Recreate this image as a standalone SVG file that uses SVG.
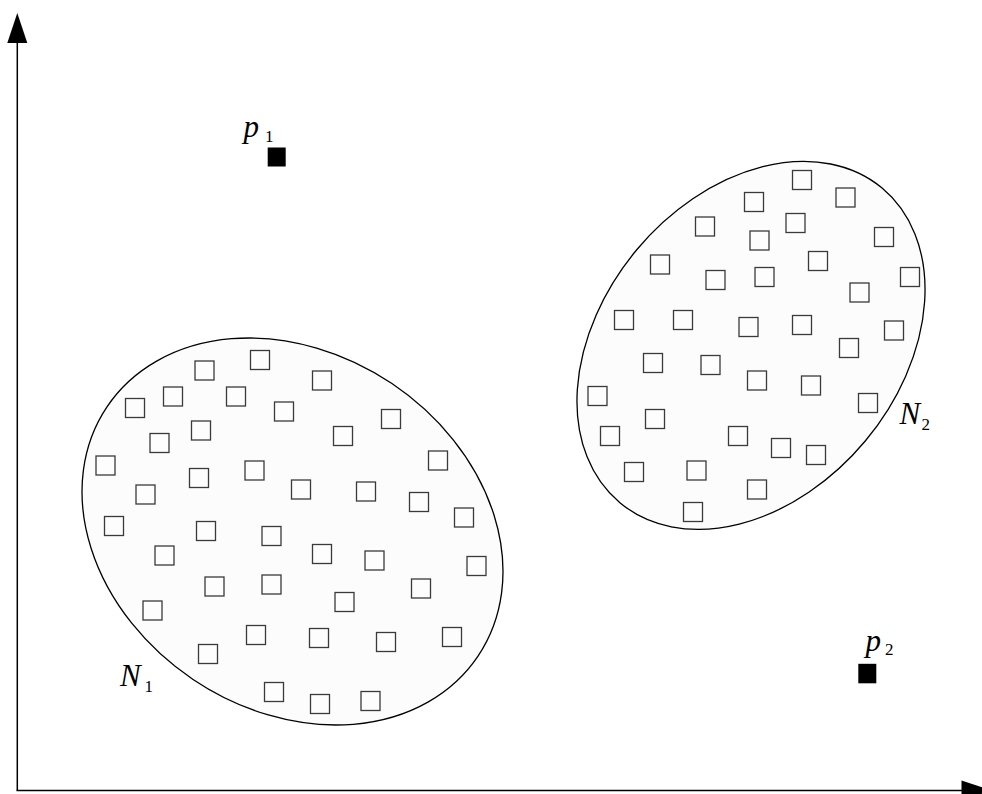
<svg xmlns="http://www.w3.org/2000/svg" width="982" height="794" viewBox="0 0 982 794">
<defs>
<style>
.cl{fill:#fcfcfc;stroke:#000;stroke-width:1.3}
.sq{fill:#fdfdfd;stroke:#3a3a3a;stroke-width:1.3}
.pt{fill:#000}
.ax{stroke:#000;stroke-width:1.5;fill:none}
</style>
<symbol id="s" overflow="visible"><rect class="sq" x="-9.5" y="-9.5" width="19" height="19"/></symbol>
</defs>
<g id="axes">
<line class="ax" x1="17.3" y1="40" x2="17.3" y2="790.5"/>
<line class="ax" x1="16.5" y1="790.5" x2="964" y2="790.5"/>
<polygon points="17.3,13 7.3,43 27.3,43" fill="#000"/>
<polygon points="992,790.5 961.5,780.5 961.5,800.5" fill="#000"/>
</g>
<g id="N1">
<ellipse class="cl" cx="292.5" cy="531.5" rx="223.5" ry="178.3" transform="rotate(33.9 292.5 531.5)"/>
<use href="#s" x="260" y="360"/>
<use href="#s" x="204.5" y="370.5"/>
<use href="#s" x="322" y="380.5"/>
<use href="#s" x="173" y="396.5"/>
<use href="#s" x="236" y="396.5"/>
<use href="#s" x="135" y="408"/>
<use href="#s" x="284" y="411.5"/>
<use href="#s" x="391" y="419"/>
<use href="#s" x="201" y="430.5"/>
<use href="#s" x="159.5" y="443"/>
<use href="#s" x="343" y="436"/>
<use href="#s" x="105.5" y="465.5"/>
<use href="#s" x="254.5" y="470.5"/>
<use href="#s" x="199" y="478"/>
<use href="#s" x="438" y="460.5"/>
<use href="#s" x="145.5" y="494.5"/>
<use href="#s" x="301" y="489.5"/>
<use href="#s" x="366" y="491.5"/>
<use href="#s" x="419" y="502"/>
<use href="#s" x="114" y="526"/>
<use href="#s" x="206" y="531"/>
<use href="#s" x="464" y="517.5"/>
<use href="#s" x="271.5" y="536"/>
<use href="#s" x="164.5" y="555.5"/>
<use href="#s" x="322" y="554"/>
<use href="#s" x="374.5" y="560.5"/>
<use href="#s" x="476.5" y="566"/>
<use href="#s" x="214.5" y="586.5"/>
<use href="#s" x="271.5" y="584.5"/>
<use href="#s" x="421" y="588.5"/>
<use href="#s" x="344.5" y="602"/>
<use href="#s" x="152.5" y="610.5"/>
<use href="#s" x="256" y="635"/>
<use href="#s" x="319" y="638"/>
<use href="#s" x="386" y="642"/>
<use href="#s" x="452" y="637"/>
<use href="#s" x="208" y="654"/>
<use href="#s" x="274" y="692"/>
<use href="#s" x="320" y="704"/>
<use href="#s" x="370.5" y="701"/>
<text x="120" y="686" font-family="Liberation Serif, DejaVu Serif, serif" font-style="italic" font-size="31">N</text>
<text x="144.5" y="692" font-family="Liberation Serif, DejaVu Serif, serif" font-size="17">1</text>
</g>
<g id="N2">
<ellipse class="cl" cx="751" cy="345.4" rx="204.8" ry="149" transform="rotate(-50.2 751 345.4)"/>
<use href="#s" x="802" y="180"/>
<use href="#s" x="754" y="202"/>
<use href="#s" x="845.5" y="197.5"/>
<use href="#s" x="705" y="226.5"/>
<use href="#s" x="795.5" y="223"/>
<use href="#s" x="759.5" y="240.5"/>
<use href="#s" x="884" y="237"/>
<use href="#s" x="660" y="264.5"/>
<use href="#s" x="818" y="261"/>
<use href="#s" x="715.5" y="280"/>
<use href="#s" x="764.5" y="277"/>
<use href="#s" x="910" y="277"/>
<use href="#s" x="859.5" y="292.5"/>
<use href="#s" x="624" y="320"/>
<use href="#s" x="683" y="320"/>
<use href="#s" x="748.5" y="327"/>
<use href="#s" x="802" y="325"/>
<use href="#s" x="894" y="330.5"/>
<use href="#s" x="849" y="348"/>
<use href="#s" x="653" y="363"/>
<use href="#s" x="710.5" y="365"/>
<use href="#s" x="757" y="380.5"/>
<use href="#s" x="811" y="385.5"/>
<use href="#s" x="597.5" y="396"/>
<use href="#s" x="868" y="403"/>
<use href="#s" x="655" y="419"/>
<use href="#s" x="610" y="436"/>
<use href="#s" x="738" y="436"/>
<use href="#s" x="781" y="448"/>
<use href="#s" x="816" y="455"/>
<use href="#s" x="634" y="472"/>
<use href="#s" x="696.5" y="470.5"/>
<use href="#s" x="757" y="489.5"/>
<use href="#s" x="693" y="512"/>
<text x="899.5" y="423.5" font-family="Liberation Serif, DejaVu Serif, serif" font-style="italic" font-size="31">N</text>
<text x="921.5" y="430" font-family="Liberation Serif, DejaVu Serif, serif" font-size="17">2</text>
</g>
<g id="p1">
<rect class="pt" x="267.7" y="147.5" width="18" height="19"/>
<text x="243.5" y="137" font-family="Liberation Serif, DejaVu Serif, serif" font-style="italic" font-size="31">p</text>
<text x="265" y="141.5" font-family="Liberation Serif, DejaVu Serif, serif" font-size="17">1</text>
</g>
<g id="p2">
<rect class="pt" x="858.3" y="663.8" width="18" height="19.5"/>
<text x="865.5" y="651" font-family="Liberation Serif, DejaVu Serif, serif" font-style="italic" font-size="31">p</text>
<text x="885" y="655" font-family="Liberation Serif, DejaVu Serif, serif" font-size="17">2</text>
</g>
</svg>
